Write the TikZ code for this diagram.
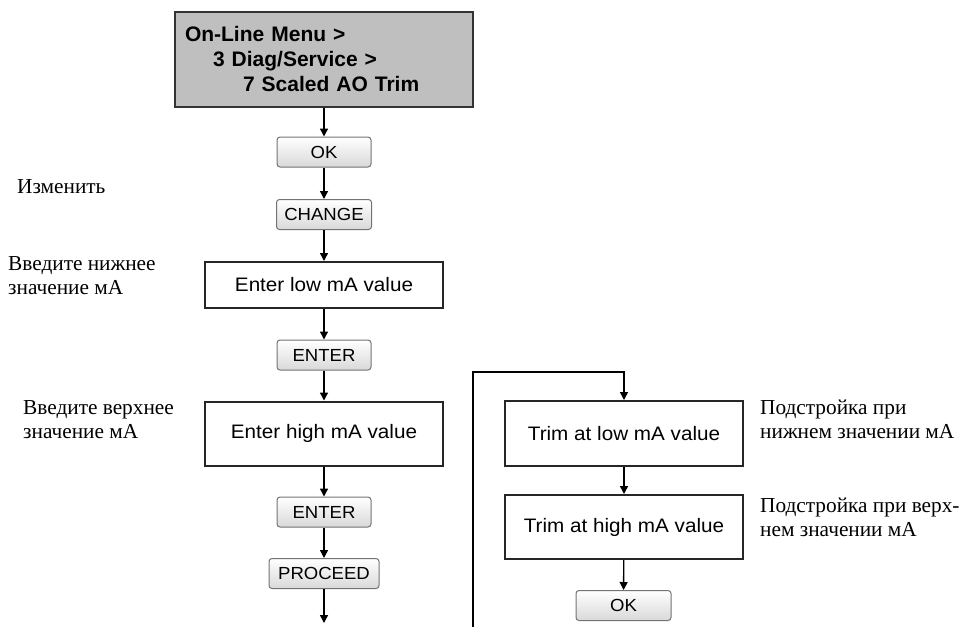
\documentclass[tikz,border=0pt]{standalone}
\usepackage{fontspec}
\setmainfont{Liberation Serif}
\newfontfamily\arialf[FakeStretch=1.06]{Liberation Sans}
\newfontfamily\arialb{Liberation Sans}
\usetikzlibrary{arrows.meta,shadings}
\tikzset{
  arr/.style={line width=1.4pt,-{Triangle[length=8pt,width=8pt]}},
  menubox/.style={draw=black!80,line width=2pt,fill=black!25,minimum width=298pt,minimum height=95pt,
    text width=278pt,align=left,inner xsep=10pt,font=\arialb\bfseries\fontsize{21}{25}\selectfont},
  btn/.style={draw=black!55,line width=1pt,rounded corners=3pt,top color=white,bottom color=black!15,
    minimum height=30pt,inner sep=0pt,font=\arialf\fontsize{17.5}{19}\selectfont},
  stepbox/.style={draw=black!85,line width=2pt,minimum width=238pt,inner sep=0pt,
    font=\arialf\fontsize{19.5}{22}\selectfont},
  lbl/.style={anchor=west,inner sep=0pt,align=left,font=\fontsize{21.3}{24.5}\selectfont}
}
\begin{document}
\begin{tikzpicture}[x=1pt,y=-1pt]
\useasboundingbox (0,0) rectangle (963,627);
\node[menubox] (top) at (324,59) {On-Line Menu >\\\hspace*{28pt}3 Diag/Service >\\\hspace*{58pt}7 Scaled AO Trim};
\node[btn,minimum width=94pt] (ok1) at (324,152) {OK};
\node[btn,minimum width=95pt] (chg) at (324,214.5) {CHANGE};
\node[stepbox,minimum height=46pt] (low) at (324,285) {Enter low mA value};
\node[btn,minimum width=94pt] (ent1) at (324,355) {ENTER};
\node[stepbox,minimum height=64pt] (high) at (324,433.5) {Enter high mA value};
\node[btn,minimum width=94pt] (ent2) at (324,512) {ENTER};
\node[btn,minimum width=110pt] (proc) at (324,573.5) {PROCEED};
\coordinate (endL) at (324,623);
\node[stepbox,minimum height=65pt] (tlow) at (624,433.5) {Trim at low mA value};
\node[stepbox,minimum height=64pt] (thigh) at (624,527) {Trim at high mA value};
\node[btn,minimum width=95pt] (ok2) at (623.5,605.5) {OK};
\coordinate (loopS) at (473,627);
\coordinate (loopT) at (473,372);

\draw[arr] (top) -- (ok1);
\draw[arr] (ok1) -- (chg);
\draw[arr] (chg) -- (low);
\draw[arr] (low) -- (ent1);
\draw[arr] (ent1) -- (high);
\draw[arr] (high) -- (ent2);
\draw[arr] (ent2) -- (proc);
\draw[arr] (proc) -- (endL);
\draw[arr] (loopS) -- (loopT) -| (tlow.north);
\draw[arr] (tlow) -- (thigh);
\draw[arr] (thigh) -- (ok2);

\node[lbl] (l1) at (17,187) {Изменить};
\node[lbl] (l2) at (8,275.5) {Введите нижнее\\значение мА};
\node[lbl] (l3) at (23,419.5) {Введите верхнее\\значение мА};
\node[lbl] (l4) at (760,419.5) {Подстройка при\\нижнем значении мА};
\node[lbl] (l5) at (760,517.5) {Подстройка при верх-\\нем значении мА};
\end{tikzpicture}
\end{document}
